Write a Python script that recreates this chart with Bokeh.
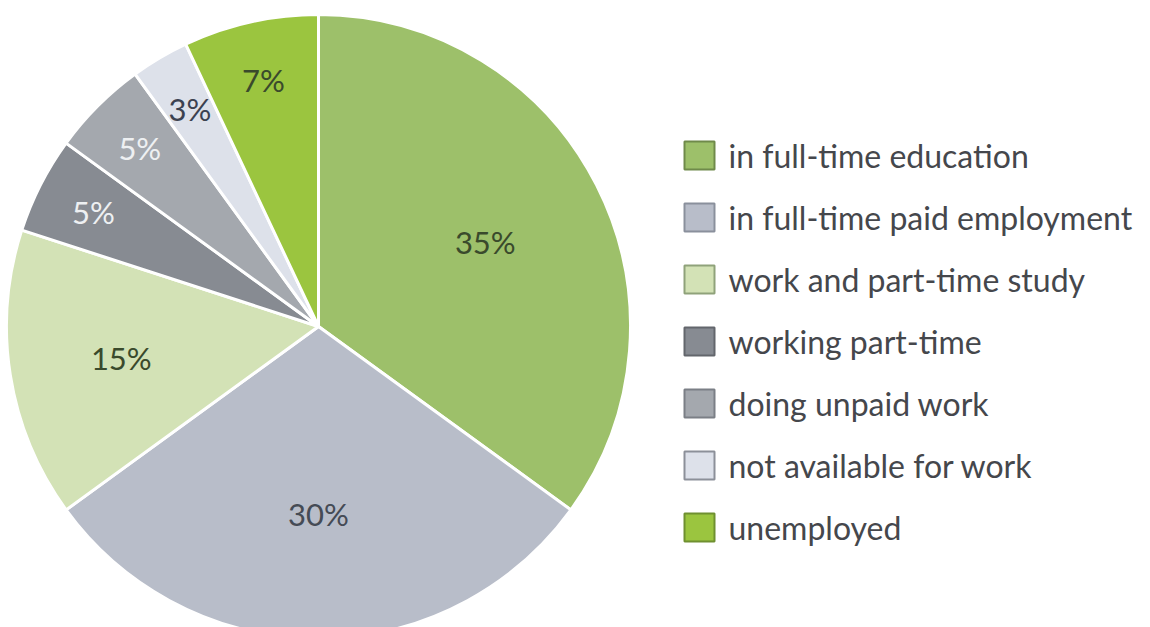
import numpy as np
from bokeh.plotting import figure
from bokeh.models import Range1d, ColumnDataSource
from bokeh.core.properties import value
from bokeh.embed import file_html
from bokeh.resources import INLINE

# ---- data ----
categories = ["in full-time education", "in full-time paid employment",
              "work and part-time study", "working part-time",
              "doing unpaid work", "not available for work", "unemployed"]
percents = [35, 30, 15, 5, 5, 3, 7]
slice_colors = ["#9dc06a", "#b8bdc9", "#d3e2b6", "#878b92",
                "#a4a8ae", "#dde1ea", "#9bc53f"]
label_colors = ["#3a4a2c", "#454b55", "#3a4a2c", "#eef0f2",
                "#eef0f2", "#3c4250", "#3a4a2c"]
legend_edge = ["#6f8a4a", "#8a909c", "#8fa27a", "#63666c",
               "#7b7f86", "#8c9099", "#6f9030"]

# ---- layout (reference pixel space, y measured upward) ----
W, H = 1150, 627
cx, cy, R = 318, H - 326, 312

p = figure(width=W, height=H, output_backend="svg", toolbar_location=None,
           x_range=Range1d(0, W), y_range=Range1d(0, H),
           min_border=0)
p.axis.visible = False
p.grid.visible = False
p.outline_line_color = None
p.background_fill_color = "white"
p.border_fill_color = "white"

vals = np.array(percents, dtype=float)
cum = np.cumsum(vals)
prev = cum - vals
start = np.pi / 2 - 2 * np.pi * prev / vals.sum()
end = np.pi / 2 - 2 * np.pi * cum / vals.sum()
mid = (start + end) / 2

src = ColumnDataSource(dict(start=start, end=end, color=slice_colors,
                            x=[cx] * len(vals), y=[cy] * len(vals)))
p.wedge(x="x", y="y", radius=R, start_angle="start", end_angle="end",
        direction="clock", fill_color="color", line_color="white",
        line_width=3, source=src)

# labels
rfrac = np.where(vals >= 20, 0.60, np.where(vals >= 10, 0.64, 0.81))
lx = cx + R * rfrac * np.cos(mid)
ly = cy + R * rfrac * np.sin(mid)
lsrc = ColumnDataSource(dict(x=lx, y=ly, t=[f"{v}%" for v in percents],
                             c=label_colors))
p.text(x="x", y="y", text="t", text_color="c", text_align="center",
       text_baseline="middle", text_font=value("Lato"),
       text_font_size="31px", source=lsrc)

# legend
row0, step = H - 155, 62
ys = [row0 - i * step for i in range(len(categories))]
p.rect(x=[699] * len(categories), y=ys, width=30, height=28,
       fill_color=slice_colors, line_color=legend_edge, line_width=2)
p.text(x=[728] * len(categories), y=ys, text=categories,
       text_color="#45474c", text_align="left", text_baseline="middle",
       text_font=value("Lato"), text_font_size="32px")

open("out.html", "w").write(file_html(p, INLINE))
